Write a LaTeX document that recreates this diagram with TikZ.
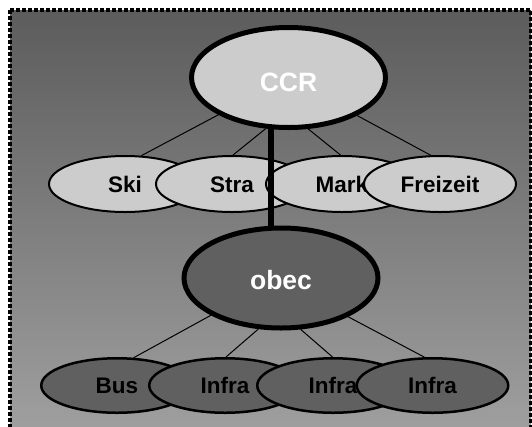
\documentclass[tikz,border=0pt]{standalone}
\usepackage{fontspec}
\setmainfont{Liberation Sans}
\usetikzlibrary{shapes.geometric}

% drawing order: backdrop, thin links, leaf ellipses, spine, hub ellipses
\pgfdeclarelayer{back}
\pgfdeclarelayer{conn}
\pgfdeclarelayer{spinelayer}
\pgfdeclarelayer{hublayer}
\pgfsetlayers{back,conn,main,spinelayer,hublayer}

\definecolor{lightfill}{HTML}{CCCCCC}
\definecolor{darkfill}{HTML}{606060}
\definecolor{bgtop}{HTML}{5C5C5C}
\definecolor{bgbottom}{HTML}{A0A0A0}

% lower the label inside its box without changing the box
\newcommand{\lowered}[2]{\raisebox{-#1}[\height][\depth]{#2}}

\begin{document}
\begin{tikzpicture}[x=1pt,y=-1pt,
  hub/.style={ellipse, draw=black, line width=5pt, inner sep=0pt,
    minimum width=194pt, minimum height=100pt, text=white,
    text height=19pt, text depth=0pt,
    font=\fontsize{26.5}{30}\selectfont\bfseries},
  upperleaf/.style={ellipse, draw=black, line width=2pt, inner sep=0pt,
    fill=lightfill, minimum width=152pt, minimum height=56pt, text=black,
    text height=16pt, text depth=0pt,
    font=\fontsize{22.5}{26}\selectfont\bfseries},
  lowerleaf/.style={ellipse, draw=black, line width=2.5pt, inner sep=0pt,
    fill=darkfill, minimum width=151.5pt, minimum height=54.5pt, text=black,
    text height=16pt, text depth=0pt,
    font=\fontsize{22.5}{26}\selectfont\bfseries},
  link/.style={draw=black, line width=1pt},
  spineline/.style={draw=black, line width=5.4pt}]

\useasboundingbox (0,0) rectangle (532,426);
\clip (0,0) rectangle (532,426);

% backdrop with its dotted frame
\begin{pgfonlayer}{back}
  \shade[top color=bgtop, bottom color=bgbottom] (10,10) rectangle (531,436);
  \draw[line width=4pt, dash pattern=on 4pt off 2pt] (10,10) rectangle (531,436);
\end{pgfonlayer}

% hubs
\begin{pgfonlayer}{hublayer}
  \node[hub, fill=lightfill] (ccr) at (288.5,77.5) {\lowered{4pt}{CCR}};
  \node[hub, fill=darkfill] (obec) at (281,278) {\lowered{1.5pt}{obec}};
\end{pgfonlayer}

% upper row, each one overlapping the previous
\node[upperleaf] (ski)  at (125,184) {Ski};
\node[upperleaf] (stra) at (232,184) {Stra};
\node[upperleaf] (mark) at (342,184) {Mark};
\node[upperleaf] (frei) at (440,184) {Freizeit};

% lower row
\node[lowerleaf] (bus)  at (117,385.5) {Bus};
\node[lowerleaf] (infA) at (225,385.5) {Infra};
\node[lowerleaf] (infB) at (333,385.5) {Infra};
\node[lowerleaf] (infC) at (432.5,385.5) {Infra};

% thin links from each hub to its row
\begin{pgfonlayer}{conn}
  \draw[link] (ccr.208) -- (ski.60);
  \draw[link] (ccr.246) -- (stra.88);
  \draw[link] (ccr.291) -- (mark.93);
  \draw[link] (ccr.331) -- (frei.108);
  \draw[link] (obec.208) -- (bus.59);
  \draw[link] (obec.246) -- (infA.88);
  \draw[link] (obec.291) -- (infB.91);
  \draw[link] (obec.330) -- (infC.106);
\end{pgfonlayer}

% vertical spine between the hubs
\coordinate (spinex) at (271,0);
\begin{pgfonlayer}{spinelayer}
  \draw[spineline] (ccr.center -| spinex) -- (obec.center -| spinex);
\end{pgfonlayer}

\end{tikzpicture}
\end{document}
